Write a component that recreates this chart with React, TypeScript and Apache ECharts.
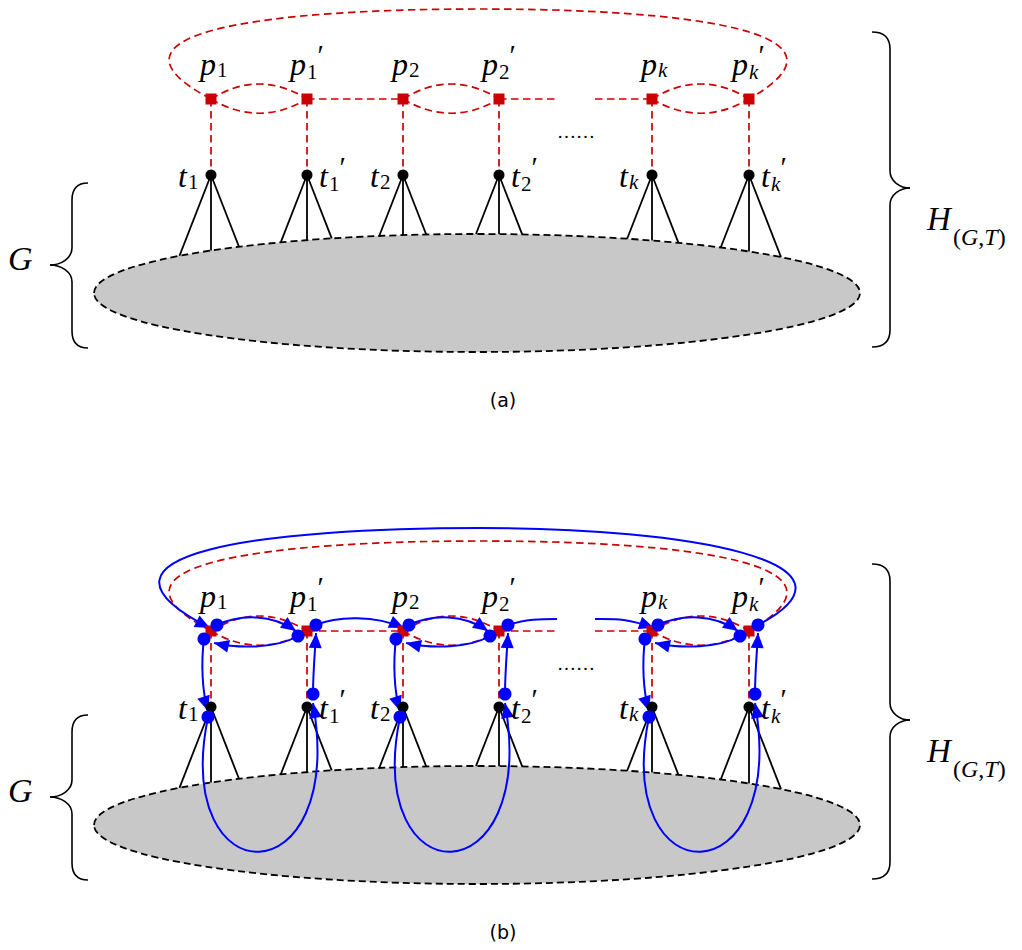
import React, { useEffect, useRef } from "react";
import * as echarts from "echarts";

// ---------------- data ----------------
const TERMINAL_X = [211, 307, 403, 499, 652, 749];
const TERMINAL_SUB = ["1", "1", "2", "2", "k", "k"];
const TERMINAL_PRIME = [false, true, false, true, false, true];
const PAIRS = [[0, 1], [2, 3], [4, 5]];
const PANEL_SHIFT = [0, 532];
const PANEL_CAPTION = ["(a)", "(b)"];
const ROW_P = 99;
const ROW_T = 175;
const ROW_GAP = [557, 595];
const G_ELLIPSE = [477, 293, 383, 59];
const FOOT_SLOPES = [-0.39, 0, 0.39];
const BRACE_G = [88, 72, 50, 183, 265, 348];
const BRACE_H = [872, 890, 910, 32, 188, 347];
const G_LABEL = [8, 270];
const H_LABEL = [927, 230];
const CAPTION_POS = [503, 400];
const DOTS_POS = [576, 138];

// ---------------- geometry helpers ----------------
type Pt = [number, number];
interface Seg { pts: Pt[]; arrow?: boolean }
const sh = (pts: Pt[], dy: number): Pt[] => pts.map(([x, y]) => [x, y + dy] as Pt);

function redSegments(dy: number): Seg[] {
  const X = TERMINAL_X;
  const segs: Seg[] = [];
  X.forEach((x) => segs.push({ pts: sh([[x, ROW_P], [x, ROW_T]], dy) }));
  PAIRS.forEach(([a, b], i) => {
    const p = X[a], q = X[b];
    segs.push({ pts: sh([[p, ROW_P], [p + 32, ROW_P - 20], [q - 32, ROW_P - 20], [q, ROW_P]], dy) });
    segs.push({ pts: sh([[p, ROW_P], [p + 32, ROW_P + 19], [q - 32, ROW_P + 19], [q, ROW_P]], dy) });
    if (i + 1 < PAIRS.length) {
      const n = X[PAIRS[i + 1][0]];
      if (ROW_GAP[0] > q && ROW_GAP[1] < n) {
        segs.push({ pts: sh([[q, ROW_P], [ROW_GAP[0], ROW_P]], dy) });
        segs.push({ pts: sh([[ROW_GAP[1], ROW_P], [n, ROW_P]], dy) });
      } else {
        segs.push({ pts: sh([[q, ROW_P], [n, ROW_P]], dy) });
      }
    }
  });
  const first = X[0], last = X[X.length - 1];
  const mid = (first + last) / 2;
  segs.push({ pts: sh([[first, ROW_P], [first - 131, 30], [mid - 200, 9], [mid, 9]], dy) });
  segs.push({ pts: sh([[mid, 9], [mid + 200, 9], [last + 121, 30], [last, ROW_P]], dy) });
  return segs;
}

function footSegments(dy: number): Seg[] {
  const [cx, cy, rx, ry] = G_ELLIPSE;
  const segs: Seg[] = [];
  TERMINAL_X.forEach((tx) =>
    FOOT_SLOPES.forEach((s) => {
      const a = (s * s) / (rx * rx) + 1 / (ry * ry);
      const b = 2 * ((s * (tx - cx)) / (rx * rx) + (ROW_T - cy) / (ry * ry));
      const c = ((tx - cx) / rx) ** 2 + ((ROW_T - cy) / ry) ** 2 - 1;
      const lam = (-b - Math.sqrt(b * b - 4 * a * c)) / (2 * a);
      segs.push({ pts: sh([[tx, ROW_T], [tx + s * lam, ROW_T + lam]], dy) });
    })
  );
  return segs;
}

function blueSegments(dy: number): Seg[] {
  const X = TERMINAL_X;
  const segs: Seg[] = [];
  PAIRS.forEach(([a, b], i) => {
    const p = X[a], q = X[b];
    segs.push({ pts: sh([[p + 6, 93], [p + 30, 82], [q - 35, 82], [q - 11, 99]], dy), arrow: true });
    segs.push({ pts: sh([[q - 9, 104], [q - 30, 116], [p + 30, 117], [p + 3, 111]], dy), arrow: true });
    segs.push({ pts: sh([[p - 7, 107], [p - 10, 130], [p - 9, 160], [p - 3, 179]], dy), arrow: true });
    segs.push({ pts: sh([[p - 3, 185], [p - 40, 367], [q + 40, 367], [q + 6, 171]], dy), arrow: true });
    segs.push({ pts: sh([[q + 6, 162], [q + 6, 140], [q + 8, 120], [q + 9, 101]], dy), arrow: true });
    if (i + 1 < PAIRS.length) {
      const n = X[PAIRS[i + 1][0]];
      if (ROW_GAP[0] > q && ROW_GAP[1] < n) {
        segs.push({ pts: sh([[q + 9, 93], [q + 26, 87], [ROW_GAP[0] - 15, 87], [ROW_GAP[0], 87]], dy) });
        segs.push({ pts: sh([[ROW_GAP[1], 87], [ROW_GAP[1] + 20, 87], [n - 26, 86], [n + 2, 96]], dy), arrow: true });
      } else {
        segs.push({ pts: sh([[q + 9, 93], [q + 30, 84], [n - 28, 83], [n + 1, 96]], dy), arrow: true });
      }
    }
  });
  const first = X[0], last = X[X.length - 1];
  const mid = (first + last) / 2;
  segs.push({ pts: sh([[last + 9, 93], [last + 129, 30], [mid + 210, -4], [mid, -4]], dy) });
  segs.push({ pts: sh([[mid, -4], [mid - 210, -4], [first - 151, 20], [first - 1, 96]], dy), arrow: true });
  return segs;
}

function blueDots(dy: number): Pt[] {
  const X = TERMINAL_X;
  const out: Pt[] = [];
  PAIRS.forEach(([a, b]) => {
    const p = X[a], q = X[b];
    out.push(...sh([[p + 6, 93], [p - 7, 107], [q - 9, 104], [q + 9, 93], [p - 3, 185], [q + 6, 162]], dy));
  });
  return out;
}

function braceSegments(br: number[], dy: number): Seg[] {
  const [xe, xs, xt, y0, ym, y1] = br;
  const k = 17;
  const segs: Seg[] = [
    { pts: [[xe, y0], [xs + (xe - xs) * 0.25, y0], [xs, y0 + k * 0.4], [xs, y0 + k]] },
    { pts: [[xs, y0 + k], [xs, ym - k]] },
    { pts: [[xs, ym - k], [xs, ym - k * 0.4], [xt + (xs - xt) * 0.5, ym], [xt, ym]] },
    { pts: [[xt, ym], [xt + (xs - xt) * 0.5, ym], [xs, ym + k * 0.4], [xs, ym + k]] },
    { pts: [[xs, ym + k], [xs, y1 - k]] },
    { pts: [[xs, y1 - k], [xs, y1 - k * 0.4], [xs + (xe - xs) * 0.25, y1], [xe, y1]] },
  ];
  return segs.map((s) => ({ pts: sh(s.pts, dy) }));
}

// ---------------- labels ----------------
const SERIF = "Liberation Serif";
const SANS = "DejaVu Sans";
const MAIN = 32;
const SUB = 21;
interface Lbl { x: number; y: number; text: string; size: number; italic: boolean; family: string; align: string; rich?: any }
const mid = (base: number, size: number) => base - 0.3375 * size;

function mathLabel(left: number, base: number, main: string, sub: string, prime: boolean, mainW: number): Lbl[] {
  const out: Lbl[] = [];
  out.push({ x: left, y: mid(base, MAIN), text: main, size: MAIN, italic: true, family: SERIF, align: "left" });
  const subItalic = /[a-zA-Z]/.test(sub);
  out.push({ x: left + mainW, y: mid(base + (prime ? 4 : 2), SUB), text: sub, size: SUB, italic: subItalic, family: SERIF, align: "left" });
  if (prime) {
    const subW = subItalic ? 9.5 : 10.5;
    out.push({ x: left + mainW + subW, y: base - 20, text: "\u2032", size: 29, italic: false, family: SERIF, align: "left" });
  }
  return out;
}

function panelLabels(dy: number, idx: number): Lbl[] {
  const out: Lbl[] = [];
  TERMINAL_X.forEach((x, i) => {
    const pr = TERMINAL_PRIME[i];
    out.push(...mathLabel(x + (pr ? -17 : -11), 75 + dy, "p", TERMINAL_SUB[i], pr, 17));
    out.push(...mathLabel(x + (pr ? 12 : -33), 187 + dy, "t", TERMINAL_SUB[i], pr, 10));
  });
  out.push({ x: G_LABEL[0], y: mid(G_LABEL[1] + dy, 34), text: "G", size: 34, italic: true, family: SERIF, align: "left" });
  out.push({ x: H_LABEL[0], y: mid(H_LABEL[1] + dy, 33), text: "H", size: 33, italic: true, family: SERIF, align: "left" });
  out.push({
    x: H_LABEL[0] + 26,
    y: mid(H_LABEL[1] + 15 + dy, 24),
    text: "{r|(}{i|G}{r|,}{i|T}{r|)}",
    size: 24,
    italic: false,
    family: SERIF,
    align: "left",
    rich: {
      r: { fontFamily: SERIF, fontSize: 24, fill: "#000" },
      i: { fontFamily: SERIF, fontSize: 24, fontStyle: "italic", fill: "#000" },
    },
  });
  out.push({ x: DOTS_POS[0], y: mid(DOTS_POS[1] + dy, 19), text: "\u2026\u2026", size: 19, italic: false, family: SERIF, align: "center" });
  out.push({ x: CAPTION_POS[0], y: CAPTION_POS[1] + dy, text: PANEL_CAPTION[idx], size: 19, italic: false, family: SANS, align: "center" });
  return out;
}

const RED = PANEL_SHIFT.flatMap((dy) => redSegments(dy));
const FEET = PANEL_SHIFT.flatMap((dy) => footSegments(dy));
const BRACES = PANEL_SHIFT.flatMap((dy) => [...braceSegments(BRACE_G, dy), ...braceSegments(BRACE_H, dy)]);
const BLUE = blueSegments(PANEL_SHIFT[1]);
const BLUE_DOTS = blueDots(PANEL_SHIFT[1]);
const P_NODES = PANEL_SHIFT.flatMap((dy) => TERMINAL_X.map((x) => [x, ROW_P + dy]));
const T_NODES = PANEL_SHIFT.flatMap((dy) => TERMINAL_X.map((x) => [x, ROW_T + dy]));
const LABELS = PANEL_SHIFT.flatMap((dy, i) => panelLabels(dy, i));

function segSeries(segs: Seg[], stroke: string, lineWidth: number, dash?: number[]) {
  return {
    type: "custom",
    coordinateSystem: "cartesian2d",
    silent: true,
    data: segs.map((_, i) => [i, 0]),
    renderItem: (params: any, api: any) => {
      const seg = segs[params.dataIndex];
      const p = seg.pts.map((pt) => api.coord(pt));
      const style: any = { stroke, lineWidth, fill: "none" };
      if (dash) style.lineDash = dash;
      const children: any[] = [];
      if (p.length === 2) {
        children.push({ type: "line", shape: { x1: p[0][0], y1: p[0][1], x2: p[1][0], y2: p[1][1] }, style });
      } else {
        children.push({
          type: "bezierCurve",
          shape: { x1: p[0][0], y1: p[0][1], cpx1: p[1][0], cpy1: p[1][1], cpx2: p[2][0], cpy2: p[2][1], x2: p[3][0], y2: p[3][1] },
          style,
        });
      }
      if (seg.arrow) {
        const tip = p[p.length - 1];
        const from = p[p.length - 2];
        let ux = tip[0] - from[0];
        let uy = tip[1] - from[1];
        const len = Math.hypot(ux, uy) || 1;
        ux /= len;
        uy /= len;
        const L = 15, W = 6.5;
        const bx = tip[0] - L * ux, by = tip[1] - L * uy;
        children.push({
          type: "polygon",
          shape: { points: [[tip[0], tip[1]], [bx - W * uy, by + W * ux], [bx + W * uy, by - W * ux]] },
          style: { fill: stroke, stroke: "none" },
        });
      }
      return { type: "group", children };
    },
  };
}

export default function App() {
  const ref = useRef<HTMLDivElement>(null);
  useEffect(() => {
    document.body.style.margin = "0";
    if (!ref.current) return;
    const chart = echarts.init(ref.current, undefined, { renderer: "svg" });
    const option: any = {
      animation: false,
      backgroundColor: "#ffffff",
      grid: { left: 0, right: 0, top: 0, bottom: 0, containLabel: false },
      xAxis: { type: "value", min: 0, max: 1022, show: false },
      yAxis: { type: "value", min: 0, max: 950, inverse: true, show: false },
      series: [
        {
          type: "custom",
          coordinateSystem: "cartesian2d",
          silent: true,
          data: PANEL_SHIFT.map((dy) => [G_ELLIPSE[0], G_ELLIPSE[1] + dy]),
          renderItem: (params: any, api: any) => {
            const c = api.coord([api.value(0), api.value(1)]);
            const s = api.size([G_ELLIPSE[2], G_ELLIPSE[3]]);
            return {
              type: "ellipse",
              shape: { cx: c[0], cy: c[1], rx: Math.abs(s[0]), ry: Math.abs(s[1]) },
              style: { fill: "#c8c8c8", stroke: "#000", lineWidth: 1.8, lineDash: [7, 4] },
            };
          },
        },
        segSeries(FEET, "#000", 1.8),
        segSeries(BRACES, "#000", 1.6),
        segSeries(RED, "#cc0000", 1.7, [7.5, 4.5]),
        { type: "scatter", silent: true, data: T_NODES, symbol: "circle", symbolSize: 11, itemStyle: { color: "#000", opacity: 1 } },
        { type: "scatter", silent: true, data: P_NODES, symbol: "rect", symbolSize: 11, itemStyle: { color: "#cc0000", opacity: 1 } },
        segSeries(BLUE, "#0000ff", 2),
        { type: "scatter", silent: true, data: BLUE_DOTS, symbol: "circle", symbolSize: 13, itemStyle: { color: "#0000ff", opacity: 1 } },
        {
          type: "custom",
          coordinateSystem: "cartesian2d",
          silent: true,
          data: LABELS.map((_, i) => [i, 0]),
          renderItem: (params: any, api: any) => {
            const l = LABELS[params.dataIndex];
            const c = api.coord([l.x, l.y]);
            const style: any = {
              text: l.text,
              fontFamily: l.family,
              fontSize: l.size,
              fontStyle: l.italic ? "italic" : "normal",
              fill: "#000",
              align: l.align,
              verticalAlign: "middle",
            };
            if (l.rich) style.rich = l.rich;
            return { type: "text", x: c[0], y: c[1], style };
          },
        },
      ],
    };
    chart.setOption(option);
    return () => chart.dispose();
  }, []);
  return <div ref={ref} style={{ width: 1022, height: 950 }} />;
}
